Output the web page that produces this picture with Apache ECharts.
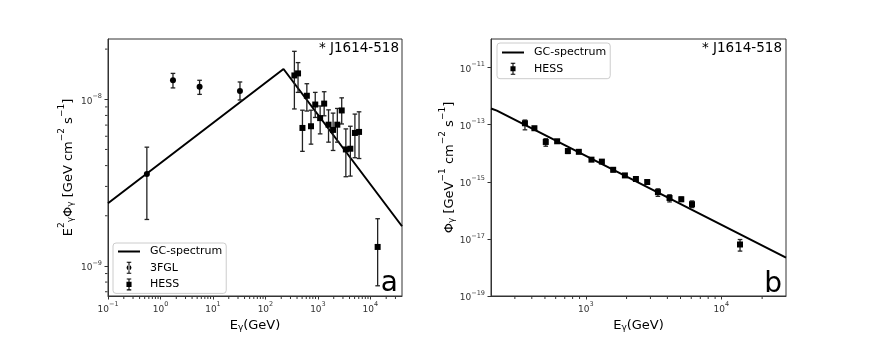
<!DOCTYPE html>
<html>
<head>
<meta charset="utf-8">
<script src="https://cdn.jsdelivr.net/npm/echarts@6/dist/echarts.min.js"></script>
<style>
  html, body { margin: 0; padding: 0; background: #fff; }
  #spec { width: 872px; height: 337px; }
</style>
</head>
<body>
<div id="spec"></div>
<script>
// ---- panel a : E^2 * flux ----
var fglE   = [0.55, 1.73, 5.56, 32.7];
var fglF   = [3.56e-9, 1.30e-8, 1.19e-8, 1.12e-8];
var fglLo  = [1.90e-9, 1.17e-8, 1.07e-8, 0.99e-8];
var fglHi  = [5.16e-9, 1.43e-8, 1.30e-8, 1.27e-8];

// HESS energies (GeV), same bins in both panels
var hessE  = [356, 418, 507, 615, 738, 889, 1102, 1315, 1593, 1944, 2344, 2840, 3406, 4149, 5066, 6077, 13740];
var hessF2   = [1.39e-8, 1.43e-8, 6.73e-9, 1.05e-8, 6.89e-9, 9.30e-9, 7.71e-9, 9.42e-9, 7.04e-9, 6.55e-9, 7.04e-9, 8.57e-9, 5.00e-9, 5.05e-9, 6.28e-9, 6.37e-9, 1.30e-9];
var hessF2Lo = [8.75e-9, 1.10e-8, 4.87e-9, 8.50e-9, 5.38e-9, 7.78e-9, 6.20e-9, 7.96e-9, 5.53e-9, 4.93e-9, 5.53e-9, 7.11e-9, 3.43e-9, 3.46e-9, 4.46e-9, 4.41e-9, 7.6e-10];
var hessF2Hi = [1.94e-8, 1.66e-8, 8.60e-9, 1.24e-8, 8.60e-9, 1.10e-8, 9.12e-9, 1.11e-8, 8.64e-9, 8.26e-9, 8.81e-9, 1.02e-8, 6.64e-9, 6.89e-9, 8.15e-9, 8.41e-9, 1.92e-9];

var gcEa = [0.1, 221, 40000];
var gcFa = [2.38e-9, 1.52e-8, 1.73e-9];

// ---- panel b : flux ----
var hessF   = [1.12e-13, 7.5e-14, 2.48e-14, 2.62e-14, 1.19e-14, 1.12e-14, 5.95e-15, 5.08e-15, 2.63e-15, 1.67e-15, 1.25e-15, 9.8e-16, 4.35e-16, 2.71e-16, 2.44e-16, 1.64e-16, 6.37e-18];
var hessFLo = [6.6e-14, 6.5e-14, 1.76e-14, 2.3e-14, 0.98e-14, 0.98e-14, 5.2e-15, 4.5e-15, 2.25e-15, 1.45e-15, 1.08e-15, 8.5e-16, 3.09e-16, 1.97e-16, 2.05e-16, 1.25e-16, 3.74e-18];
var hessFHi = [1.45e-13, 8.6e-14, 3.22e-14, 2.95e-14, 1.42e-14, 1.28e-14, 6.8e-15, 5.8e-15, 3.05e-15, 1.92e-15, 1.45e-15, 1.12e-15, 5.65e-16, 3.51e-16, 2.9e-16, 2.13e-16, 9.5e-18];

var gcEb = [200, 221, 30000];
var gcFb = [3.7e-13, 3.11e-13, 2.2e-18];

// ticks
var aXTicks = [1e-1, 1e0, 1e1, 1e2, 1e3, 1e4];
var aYTicks = [1e-9, 1e-8];
var bXTicks = [1e3, 1e4];
var bYTicks = [1e-19, 1e-17, 1e-15, 1e-13, 1e-11];

var FONT = 'DejaVu Sans';
var INK = '#333';

var aXMin = 0.1, aXMax = 40000, aYMin = 6.6e-10, aYMax = 2.3e-8;
var bXMin = 200, bXMax = 30000, bYMin = 1e-19, bYMax = 1e-10;

// minor tick positions 2..9 x 10^d inside (lo, hi)
function minors(lo, hi, d0, d1) {
  var out = [];
  for (var d = d0; d <= d1; d++) {
    for (var k = 2; k <= 9; k++) {
      var v = k * Math.pow(10, d);
      if (v > lo && v < hi) out.push(v);
    }
  }
  return out;
}

function powLabel(v) {
  var e = Math.round(Math.log10(v));
  var s = e < 0 ? '\u2212' + (-e) : '' + e;
  return '{b|10}{s|' + s + '}';
}
var tickRich = {
  b: { fontFamily: FONT, fontSize: 9, color: INK, lineHeight: 13, verticalAlign: 'bottom' },
  s: { fontFamily: FONT, fontSize: 6.5, color: INK, lineHeight: 8, verticalAlign: 'top' }
};
var nameRich = {
  t: { fontFamily: FONT, fontSize: 13, color: '#000', lineHeight: 18, verticalAlign: 'bottom' },
  p: { fontFamily: FONT, fontSize: 9, color: '#000', lineHeight: 9, verticalAlign: 'top' },
  d: { fontFamily: FONT, fontSize: 9, color: '#000', lineHeight: 9, verticalAlign: 'bottom' }
};

function logAxis(grid, pos, min, max, ticks, name, gap, isY) {
  return {
    type: 'log', logBase: 10, gridIndex: grid, position: pos, min: min, max: max,
    name: name, nameLocation: 'middle', nameGap: gap,
    nameTextStyle: { rich: nameRich },
    axisLine: { show: true, lineStyle: { color: INK, width: 1 } },
    axisTick: { show: true, inside: false, length: 3.5, lineStyle: { color: INK }, customValues: ticks },
    axisLabel: { show: true, margin: isY ? 6 : 5, formatter: powLabel, rich: tickRich, customValues: ticks },
    minorTick: { show: false },
    splitLine: { show: false }
  };
}

function errRender(params, api) {
  var x = api.value(0), lo = api.value(1), hi = api.value(2);
  var p1 = api.coord([x, hi]), p2 = api.coord([x, lo]);
  var c = 2.3;
  var st = { stroke: '#222', lineWidth: 1.3 };
  return {
    type: 'group',
    children: [
      { type: 'line', shape: { x1: p1[0], y1: p1[1], x2: p2[0], y2: p2[1] }, style: st },
      { type: 'line', shape: { x1: p1[0] - c, y1: p1[1], x2: p1[0] + c, y2: p1[1] }, style: st },
      { type: 'line', shape: { x1: p2[0] - c, y1: p2[1], x2: p2[0] + c, y2: p2[1] }, style: st }
    ]
  };
}

// short outward minor ticks, placed through the axis scales
function minorXRender(params, api) {
  var p = api.coord([api.value(0), api.value(1)]);
  return { type: 'line', shape: { x1: p[0], y1: p[1] + 0.5, x2: p[0], y2: p[1] + 3 }, style: { stroke: INK, lineWidth: 1 } };
}
function minorYRender(params, api) {
  var p = api.coord([api.value(0), api.value(1)]);
  return { type: 'line', shape: { x1: p[0] - 3, y1: p[1], x2: p[0] - 0.5, y2: p[1] }, style: { stroke: INK, lineWidth: 1 } };
}
function minorSeries(idx, vals, fixed, isY) {
  return {
    type: 'custom', xAxisIndex: idx, yAxisIndex: idx, clip: false, silent: true,
    data: vals.map(function (v) { return isY ? [fixed, v] : [v, fixed]; }),
    renderItem: isY ? minorYRender : minorXRender, encode: { x: 0, y: 1 }, z: 5
  };
}

function zip2(a, b) { return a.map(function (v, i) { return [v, b[i]]; }); }
function zip3(a, b, c) { return a.map(function (v, i) { return [v, b[i], c[i]]; }); }

var yNameA = '{t|E}{p|2}{d|\u03b3}{t|\u03a6}{d|\u03b3}{t| [GeV cm}{p|\u22122}{t| s}{p|\u22121}{t|]}';
var yNameB = '{t|\u03a6}{d|\u03b3}{t| [GeV}{p|\u22121}{t| cm}{p|\u22122}{t| s}{p|\u22121}{t|]}';
var xName = '{t|E}{d|\u03b3}{t|(GeV)}';

var errIcon = 'M2,0h6v1.4h-6z M4.3,0h1.4v16h-1.4z M2,14.6h6v1.4h-6z ';
var iconFgl = 'path://' + errIcon + 'M1.7,8a3.3,3.3 0 1,0 6.6,0a3.3,3.3 0 1,0 -6.6,0z';
var iconHess = 'path://' + errIcon + 'M1.6,4.6h6.8v6.8h-6.8z';
var iconLine = 'path://M0,0h22v2h-22z';

var legendBase = {
  orient: 'vertical', itemWidth: 22, itemHeight: 12, itemGap: 4.7,
  borderColor: '#cccccc', borderWidth: 1, borderRadius: 3,
  backgroundColor: 'rgba(255,255,255,0.8)', selectedMode: false,
  textStyle: { fontFamily: FONT, fontSize: 11, color: '#000', padding: [0, 0, 0, 5] }
};

var option = {
  animation: false,
  backgroundColor: '#fff',
  textStyle: { fontFamily: FONT },
  grid: [
    { left: 108, top: 39, width: 294, height: 260, show: true, borderColor: INK, borderWidth: 1, backgroundColor: 'transparent' },
    { left: 491, top: 39, width: 295, height: 260, show: true, borderColor: INK, borderWidth: 1, backgroundColor: 'transparent' }
  ],
  xAxis: [
    logAxis(0, 'bottom', aXMin, aXMax, aXTicks, xName, 18, false),
    logAxis(1, 'bottom', bXMin, bXMax, bXTicks, xName, 18, false)
  ],
  yAxis: [
    logAxis(0, 'left', aYMin, aYMax, aYTicks, yNameA, 33, true),
    logAxis(1, 'left', bYMin, bYMax, bYTicks, yNameB, 32, true)
  ],
  legend: [
    Object.assign({}, legendBase, {
      left: 113, top: 243, padding: [3, 4, 3, 5],
      data: [{ name: 'GC-spectrum', icon: iconLine }, { name: '3FGL', icon: iconFgl }, { name: 'HESS', icon: iconHess }]
    }),
    Object.assign({}, legendBase, {
      left: 497, top: 43, padding: [4, 4, 4, 5],
      data: [{ name: 'GC-spectrum', icon: iconLine }, { name: 'HESS', icon: iconHess }]
    })
  ],
  series: [
    minorSeries(0, minors(aXMin, aXMax, -1, 4), aYMin, false),
    minorSeries(0, minors(aYMin, aYMax, -10, -8), aXMin, true),
    minorSeries(1, minors(bXMin, bXMax, 2, 4), bYMin, false),

    { name: 'GC-spectrum', type: 'line', xAxisIndex: 0, yAxisIndex: 0, data: zip2(gcEa, gcFa),
      symbol: 'none', lineStyle: { color: '#000', width: 2 }, itemStyle: { color: '#000' }, z: 2 },
    { name: '3FGL-err', type: 'custom', xAxisIndex: 0, yAxisIndex: 0, data: zip3(fglE, fglLo, fglHi),
      renderItem: errRender, encode: { x: 0, y: [1, 2] }, z: 3 },
    { name: '3FGL', type: 'scatter', xAxisIndex: 0, yAxisIndex: 0, data: zip2(fglE, fglF),
      symbol: 'circle', symbolSize: 6, itemStyle: { color: '#000', opacity: 1 }, z: 4 },
    { name: 'HESS-err-a', type: 'custom', xAxisIndex: 0, yAxisIndex: 0, data: zip3(hessE, hessF2Lo, hessF2Hi),
      renderItem: errRender, encode: { x: 0, y: [1, 2] }, z: 3 },
    { name: 'HESS', type: 'scatter', xAxisIndex: 0, yAxisIndex: 0, data: zip2(hessE, hessF2),
      symbol: 'rect', symbolSize: 6, itemStyle: { color: '#000', opacity: 1 }, z: 4 },

    { name: 'GC-spectrum', type: 'line', xAxisIndex: 1, yAxisIndex: 1, data: zip2(gcEb, gcFb),
      symbol: 'none', lineStyle: { color: '#000', width: 2 }, itemStyle: { color: '#000' }, z: 2 },
    { name: 'HESS-err-b', type: 'custom', xAxisIndex: 1, yAxisIndex: 1, data: zip3(hessE, hessFLo, hessFHi),
      renderItem: errRender, encode: { x: 0, y: [1, 2] }, z: 3 },
    { name: 'HESS', type: 'scatter', xAxisIndex: 1, yAxisIndex: 1, data: zip2(hessE, hessF),
      symbol: 'rect', symbolSize: 6, itemStyle: { color: '#000', opacity: 1 }, z: 4 }
  ],
  graphic: [
    { type: 'text', x: 399, y: 48, z: 10,
      style: { text: '* J1614-518', font: '13.5px "DejaVu Sans"', fill: '#000',
               align: 'right', verticalAlign: 'middle', textAlign: 'right', textVerticalAlign: 'middle' } },
    { type: 'text', x: 782, y: 48, z: 10,
      style: { text: '* J1614-518', font: '13.5px "DejaVu Sans"', fill: '#000',
               align: 'right', verticalAlign: 'middle', textAlign: 'right', textVerticalAlign: 'middle' } },
    { type: 'text', x: 398, y: 284, z: 10,
      style: { text: 'a', font: '28px "DejaVu Sans"', fill: '#000',
               align: 'right', verticalAlign: 'middle', textAlign: 'right', textVerticalAlign: 'middle' } },
    { type: 'text', x: 782, y: 285, z: 10,
      style: { text: 'b', font: '28px "DejaVu Sans"', fill: '#000',
               align: 'right', verticalAlign: 'middle', textAlign: 'right', textVerticalAlign: 'middle' } }
  ]
};

var chart = echarts.init(document.getElementById('spec'));
chart.setOption(option);
</script>
</body>
</html>
